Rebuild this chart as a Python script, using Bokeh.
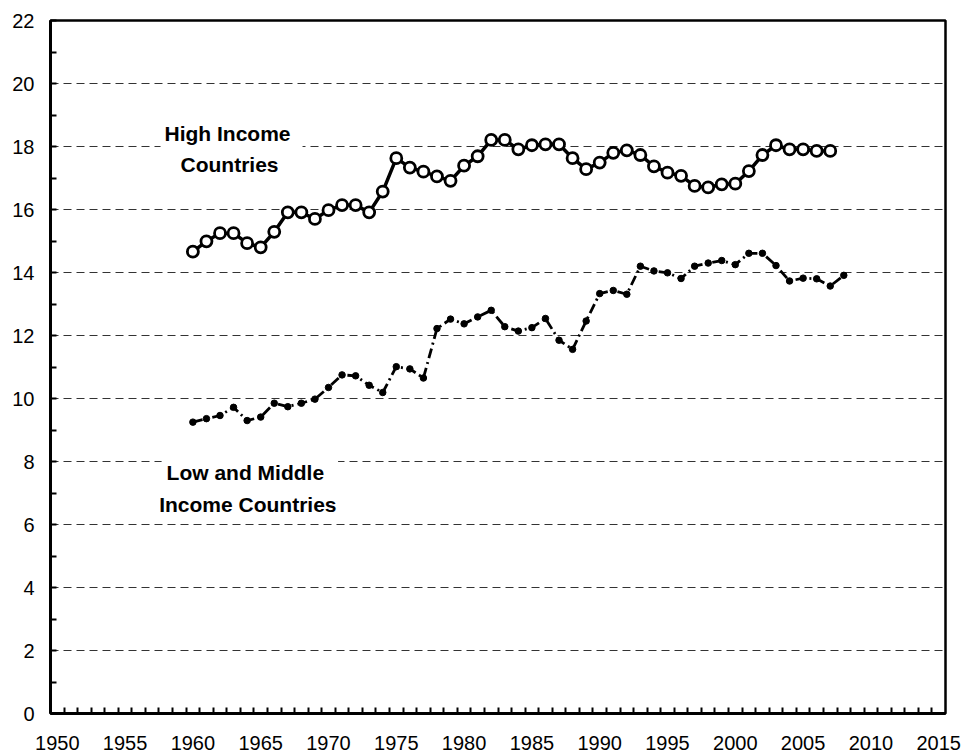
from bokeh.plotting import figure
from bokeh.models import FixedTicker, Label, Range1d
from bokeh.embed import file_html
from bokeh.resources import INLINE

years_high = [1960, 1961, 1962, 1963, 1964, 1965, 1966, 1967, 1968, 1969,
              1970, 1971, 1972, 1973, 1974, 1975, 1976, 1977, 1978, 1979,
              1980, 1981, 1982, 1983, 1984, 1985, 1986, 1987, 1988, 1989,
              1990, 1991, 1992, 1993, 1994, 1995, 1996, 1997, 1998, 1999,
              2000, 2001, 2002, 2003, 2004, 2005, 2006, 2007]
high_income = [14.66, 14.99, 15.25, 15.25, 14.93, 14.80, 15.29, 15.91, 15.91, 15.70,
               15.98, 16.14, 16.14, 15.91, 16.57, 17.63, 17.33, 17.20, 17.05, 16.91,
               17.39, 17.69, 18.21, 18.21, 17.91, 18.04, 18.07, 18.07, 17.63, 17.28,
               17.49, 17.80, 17.88, 17.73, 17.37, 17.17, 17.07, 16.75, 16.70, 16.80,
               16.82, 17.22, 17.73, 18.04, 17.91, 17.91, 17.86, 17.86]

years_low = [1960, 1961, 1962, 1963, 1964, 1965, 1966, 1967, 1968, 1969,
             1970, 1971, 1972, 1973, 1974, 1975, 1976, 1977, 1978, 1979,
             1980, 1981, 1982, 1983, 1984, 1985, 1986, 1987, 1988, 1989,
             1990, 1991, 1992, 1993, 1994, 1995, 1996, 1997, 1998, 1999,
             2000, 2001, 2002, 2003, 2004, 2005, 2006, 2007, 2008]
low_middle_income = [9.25, 9.36, 9.46, 9.72, 9.30, 9.41, 9.85, 9.74, 9.85, 9.98,
                     10.35, 10.75, 10.72, 10.42, 10.19, 11.01, 10.94, 10.65, 12.22, 12.52,
                     12.37, 12.59, 12.80, 12.28, 12.14, 12.25, 12.54, 11.85, 11.56, 12.46,
                     13.33, 13.43, 13.31, 14.20, 14.05, 13.99, 13.81, 14.20, 14.30, 14.38,
                     14.25, 14.61, 14.61, 14.22, 13.73, 13.82, 13.80, 13.57, 13.91]

x_tick_labels = [1950, 1955, 1960, 1965, 1970, 1975, 1980, 1985, 1990, 1995,
                 2000, 2005, 2010, 2015]
x_minor_ticks = [1950.5, 1951.5, 1952.5, 1953.5, 1954.5, 1955.5, 1956.5, 1957.5, 1958.5, 1959.5,
                 1960.5, 1961.5, 1962.5, 1963.5, 1964.5, 1965.5, 1966.5, 1967.5, 1968.5, 1969.5,
                 1970.5, 1971.5, 1972.5, 1973.5, 1974.5, 1975.5, 1976.5, 1977.5, 1978.5, 1979.5,
                 1980.5, 1981.5, 1982.5, 1983.5, 1984.5, 1985.5, 1986.5, 1987.5, 1988.5, 1989.5,
                 1990.5, 1991.5, 1992.5, 1993.5, 1994.5, 1995.5, 1996.5, 1997.5, 1998.5, 1999.5,
                 2000.5, 2001.5, 2002.5, 2003.5, 2004.5, 2005.5, 2006.5, 2007.5, 2008.5, 2009.5,
                 2010.5, 2011.5, 2012.5, 2013.5, 2014.5]
y_tick_labels = [0, 2, 4, 6, 8, 10, 12, 14, 16, 18, 20, 22]
y_minor_ticks = [1, 3, 5, 7, 9, 11, 13, 15, 17, 19, 21]

FONT = "Liberation Sans"

p = figure(frame_width=895, frame_height=693,
           x_range=Range1d(1949.5, 2015.5), y_range=Range1d(0, 22),
           output_backend="svg", toolbar_location=None,
           min_border_left=50, min_border_top=20, min_border_right=16,
           min_border_bottom=38)
p.background_fill_color = "white"
p.border_fill_color = "white"
p.outline_line_color = "black"
p.outline_line_width = 2.5

# axes
p.xaxis.ticker = FixedTicker(ticks=x_tick_labels, minor_ticks=x_minor_ticks)
p.yaxis.ticker = FixedTicker(ticks=y_tick_labels, minor_ticks=y_minor_ticks)
for ax in (p.xaxis, p.yaxis):
    ax.axis_line_color = "black"
    ax.axis_line_width = 3
    ax.major_label_text_font = FONT
    ax.major_label_text_font_size = "20px"
    ax.major_label_text_color = "black"
    ax.minor_tick_line_color = "black"
    ax.minor_tick_line_width = 2
    ax.minor_tick_in = 6
    ax.minor_tick_out = 0
    ax.major_tick_line_color = "black"
    ax.major_tick_line_width = 2
    ax.major_tick_out = 0
p.xaxis.major_tick_in = 0
p.yaxis.major_tick_in = 6
p.xaxis.major_label_standoff = 22
p.yaxis.major_label_standoff = 16

# grid
p.xgrid.grid_line_color = None
p.ygrid.grid_line_color = "#333333"
p.ygrid.grid_line_width = 1
p.ygrid.grid_line_dash = "8 5"

# high income series
p.line(years_high, high_income, line_color="black", line_width=3.5)
p.scatter(years_high, high_income, marker="circle", size=11,
          fill_color="white", line_color="black", line_width=2.8)

# low and middle income series
p.line(years_low, low_middle_income, line_color="black", line_width=2.8,
       line_dash="10 4 2 4")
p.scatter(years_low, low_middle_income, marker="circle", size=6.5,
          fill_color="black", line_color="black")

# annotations
def add_label(x, y, text, pad):
    p.add_layout(Label(x=x, y=y, text=text, text_font=FONT,
                       text_font_size="21px", text_font_style="bold",
                       text_color="black", text_align="center",
                       text_baseline="middle",
                       background_fill_color="white", padding=pad))

add_label(1962.85, 18.28, "High Income", (4, 12, 4, 12))
add_label(1962.85, 17.35, "Countries", (2, 6, 2, 6))
add_label(1964.2, 7.48, "Low and Middle", (5, 14, 4, 14))
add_label(1964.2, 6.58, "Income Countries", (2, 6, 2, 6))

open("out.html", "w").write(file_html(p, INLINE))
